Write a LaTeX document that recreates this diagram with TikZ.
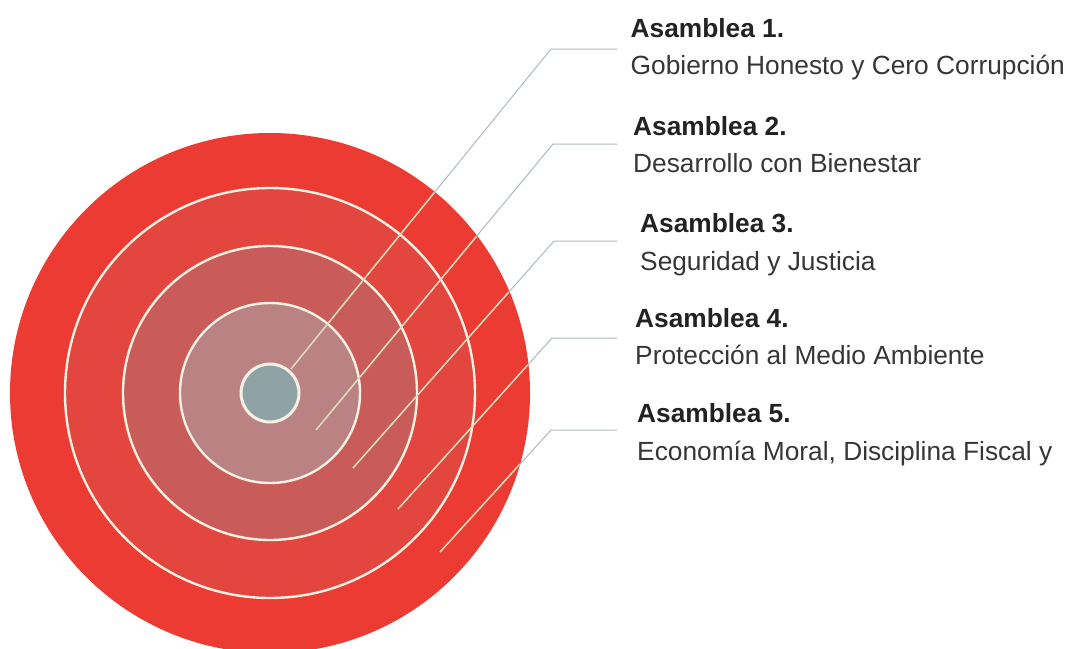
\documentclass[tikz,border=0pt]{standalone}
\usepackage{fontspec}
\setmainfont{Liberation Sans}
\definecolor{red1}{HTML}{EC3B33}
\definecolor{red2}{HTML}{E2463F}
\definecolor{red3}{HTML}{C95C58}
\definecolor{red4}{HTML}{BB8283}
\definecolor{core}{HTML}{8FA2A6}
\definecolor{ringc}{HTML}{F6F1E2}
\definecolor{leadout}{HTML}{AEB8BE}
\definecolor{leadin}{HTML}{E0DCBA}
\definecolor{txtb}{HTML}{222222}
\definecolor{txtr}{HTML}{363636}
\begin{document}
\begin{tikzpicture}[x=1pt,y=-1pt,
  ring/.style={draw=ringc,line width=2.4pt},
  leader/.style={draw=leadout,line width=1pt},
  leaderin/.style={draw=leadin,line width=1.5pt},
  title/.style={anchor=base west,inner sep=0pt,text=txtb,font=\fontsize{26.3}{31}\selectfont\bfseries},
  sub/.style={anchor=base west,inner sep=0pt,text=txtr,font=\fontsize{26.3}{31}\selectfont}]
\useasboundingbox (0,0) rectangle (1073,648);
\coordinate (c) at (270,393);
\fill[red1] (c) circle (260);
\fill[red2] (c) circle (205);
\fill[red3] (c) circle (147);
\fill[red4] (c) circle (90);
\draw[ring] (c) circle (205);
\draw[ring] (c) circle (147);
\draw[ring] (c) circle (90);
\fill[core] (c) circle (29);
\draw[ring,line width=3pt] (c) circle (29);
% text
\node[title] (t1) at (630.5,37.3) {Asamblea 1.};
\node[sub]   (s1) at (630.5,74.5) {Gobierno Honesto y Cero Corrupción};
\node[title] (t2) at (633,135) {Asamblea 2.};
\node[sub]   (s2) at (633,172.5) {Desarrollo con Bienestar};
\node[title] (t3) at (640,232.3) {Asamblea 3.};
\node[sub]   (s3) at (640,270) {Seguridad y Justicia};
\node[title] (t4) at (635,327.3) {Asamblea 4.};
\node[sub]   (s4) at (635,364) {Protección al Medio Ambiente};
\node[title] (t5) at (637,422.3) {Asamblea 5.};
\node[sub]   (s5) at (637,460) {Economía Moral, Disciplina Fiscal y};
% leader coordinates
\coordinate (a1) at (291,369); \coordinate (b1) at (551,49);  \coordinate (e1) at (617,49);
\coordinate (a2) at (316,430); \coordinate (b2) at (553,144); \coordinate (e2) at (617,144);
\coordinate (a3) at (353,468); \coordinate (b3) at (554,241); \coordinate (e3) at (617,241);
\coordinate (a4) at (398,509); \coordinate (b4) at (552,338); \coordinate (e4) at (617,338);
\coordinate (a5) at (440,552); \coordinate (b5) at (551,430); \coordinate (e5) at (617,430);
\foreach \i in {1,...,5}{
  \draw[leader] (a\i) -- (b\i) -- (e\i);
}
\begin{scope}
\clip (c) circle (259);
\foreach \i in {1,...,5}{
  \draw[leaderin] (a\i) -- (b\i);
}
\end{scope}
\end{tikzpicture}
\end{document}
